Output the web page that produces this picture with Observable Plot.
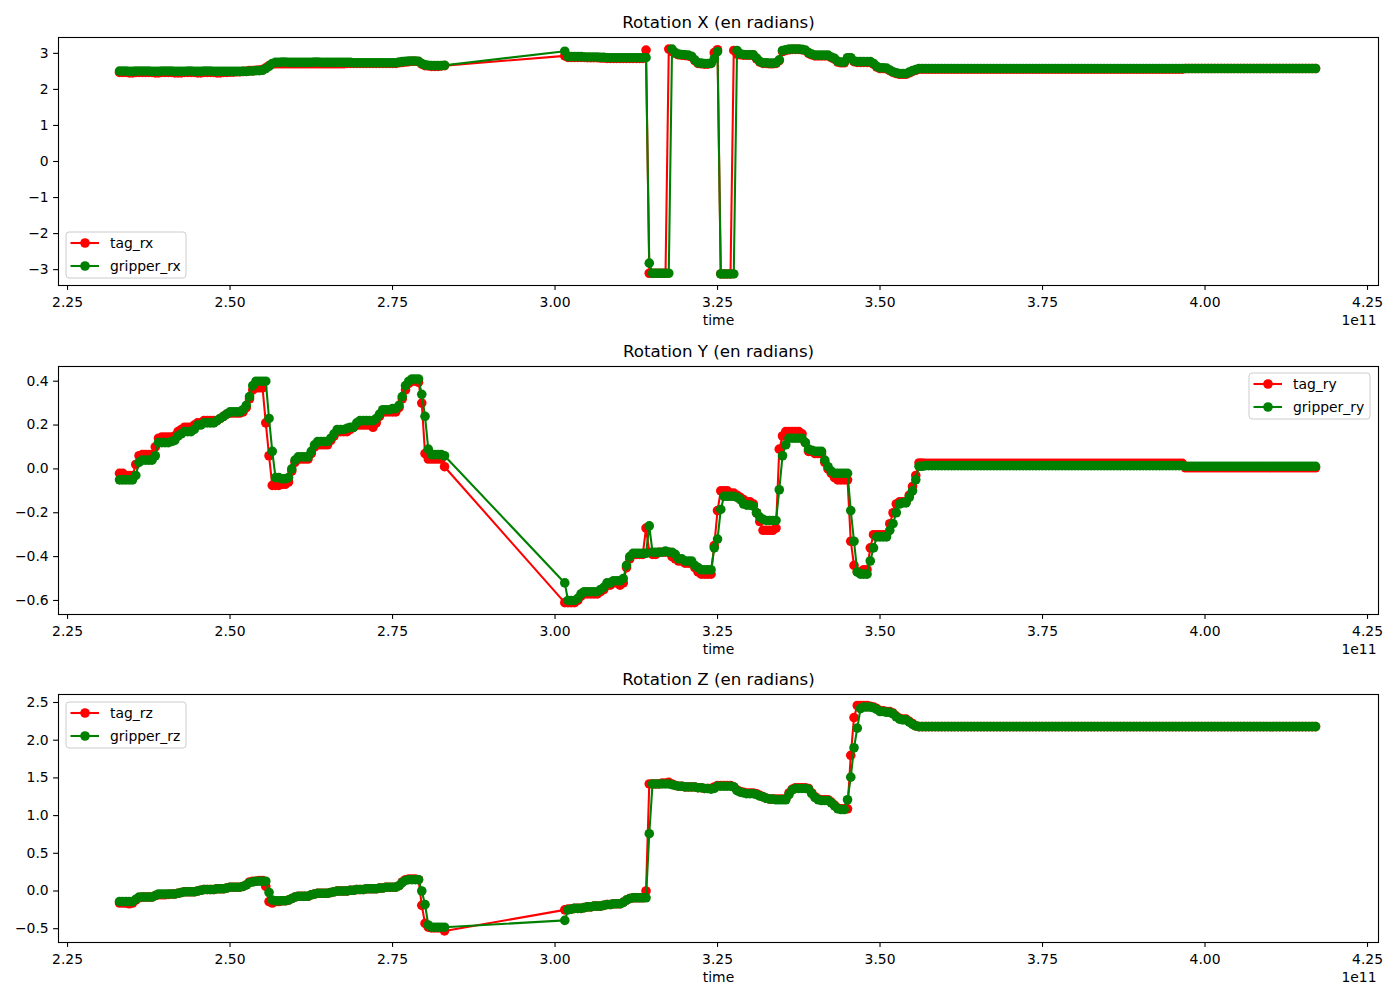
<!DOCTYPE html>
<html>
<head>
<meta charset="utf-8">
<script src="https://cdn.jsdelivr.net/npm/d3@7"></script>
<script src="https://cdn.jsdelivr.net/npm/@observablehq/plot@0.6"></script>
<style>
  body { margin: 0; background: #fff; font-family: "DejaVu Sans", sans-serif; }
  #root { position: relative; width: 1400px; height: 1000px; overflow: hidden; }
  .panel { position: absolute; left: 0; }
  .panel svg { display: block; }
  .legend { position: absolute; }
</style>
</head>
<body>
<div id="root"></div>
<script>
// ---- data (time in units of 1e11) ----
const time = [
  2.330,2.335,2.340,2.345,2.350,2.355,2.360,2.365,2.370,2.375,
  2.380,2.385,2.390,2.395,2.400,2.405,2.410,2.415,2.420,2.425,
  2.430,2.435,2.440,2.445,2.450,2.455,2.460,2.465,2.470,2.475,
  2.480,2.485,2.490,2.495,2.500,2.505,2.510,2.515,2.520,2.525,
  2.530,2.535,2.540,2.545,2.550,2.555,2.560,2.565,2.570,2.575,
  2.580,2.585,2.590,2.595,2.600,2.605,2.610,2.615,2.620,2.625,
  2.630,2.635,2.640,2.645,2.650,2.655,2.660,2.665,2.670,2.675,
  2.680,2.685,2.690,2.695,2.700,2.705,2.710,2.715,2.720,2.725,
  2.730,2.735,2.740,2.745,2.750,2.755,2.760,2.765,2.770,2.775,
  2.780,2.785,2.790,2.795,2.800,2.805,2.810,2.815,2.820,2.825,
  2.830,
  3.015,
  3.020,3.025,3.030,3.035,3.040,3.045,3.050,3.055,3.060,3.065,
  3.070,3.075,3.080,3.085,3.090,3.095,3.100,3.105,3.110,3.115,
  3.120,3.125,3.130,3.135,3.140,3.145,3.150,3.155,3.160,3.165,
  3.170,3.175,3.180,3.185,3.190,3.195,3.200,3.205,3.210,3.215,
  3.220,3.225,3.230,3.235,3.240,3.245,3.250,3.255,3.260,3.265,
  3.270,3.275,3.280,3.285,3.290,3.295,3.300,3.305,3.310,3.315,
  3.320,3.325,3.330,3.335,3.340,3.345,3.350,3.355,3.360,3.365,
  3.370,3.375,3.380,3.385,3.390,3.395,3.400,3.405,3.410,3.415,
  3.420,3.425,3.430,3.435,3.440,3.445,3.450,3.455,3.460,3.465,
  3.470,3.475,3.480,3.485,3.490,3.495,3.500,3.505,3.510,3.515,
  3.520,3.525,3.530,3.535,3.540,3.545,3.550,3.555,3.560,3.565,
  3.570,3.575,3.580,3.585,3.590,3.595,3.600,3.605,3.610,3.615,
  3.620,3.625,3.630,3.635,3.640,3.645,3.650,3.655,3.660,3.665,
  3.670,3.675,3.680,3.685,3.690,3.695,3.700,3.705,3.710,3.715,
  3.720,3.725,3.730,3.735,3.740,3.745,3.750,3.755,3.760,3.765,
  3.770,3.775,3.780,3.785,3.790,3.795,3.800,3.805,3.810,3.815,
  3.820,3.825,3.830,3.835,3.840,3.845,3.850,3.855,3.860,3.865,
  3.870,3.875,3.880,3.885,3.890,3.895,3.900,3.905,3.910,3.915,
  3.920,3.925,3.930,3.935,3.940,3.945,3.950,3.955,3.960,3.965,
  3.970,3.975,3.980,3.985,3.990,3.995,4.000,4.005,4.010,4.015,
  4.020,4.025,4.030,4.035,4.040,4.045,4.050,4.055,4.060,4.065,
  4.070,4.075,4.080,4.085,4.090,4.095,4.100,4.105,4.110,4.115,
  4.120,4.125,4.130,4.135,4.140,4.145,4.150,4.155,4.160,4.165,
  4.170
];

const tagRx = [
  2.47,2.47,2.47,2.46,2.46,2.47,2.47,2.47,2.47,2.47,
  2.47,2.46,2.46,2.47,2.47,2.47,2.47,2.46,2.46,2.46,
  2.47,2.47,2.47,2.47,2.46,2.46,2.47,2.47,2.47,2.47,
  2.46,2.46,2.47,2.47,2.48,2.48,2.49,2.49,2.50,2.50,
  2.52,2.52,2.53,2.54,2.55,2.60,2.66,2.70,2.71,2.71,
  2.71,2.71,2.71,2.71,2.71,2.71,2.71,2.71,2.71,2.71,
  2.71,2.71,2.71,2.71,2.71,2.71,2.71,2.71,2.71,2.71,
  2.72,2.72,2.72,2.72,2.72,2.72,2.72,2.72,2.72,2.72,
  2.72,2.72,2.72,2.72,2.72,2.72,2.74,2.75,2.76,2.77,
  2.78,2.78,2.77,2.70,2.66,2.65,2.64,2.64,2.64,2.65,
  2.66,
  2.93,
  2.89,2.89,2.89,2.89,2.89,2.89,2.88,2.88,2.88,2.88,
  2.87,2.87,2.86,2.86,2.86,2.86,2.86,2.86,2.86,2.86,
  2.86,2.86,2.86,2.86,3.09,-3.10,-3.10,-3.10,-3.10,-3.10,
  -3.10,3.12,3.05,3.00,2.96,2.95,2.94,2.93,2.90,2.80,
  2.72,2.71,2.70,2.70,2.72,3.02,3.10,-3.12,-3.12,-3.12,
  -3.12,3.08,2.98,2.96,2.95,2.95,2.95,2.95,2.85,2.76,
  2.72,2.72,2.71,2.71,2.72,2.80,3.05,3.08,3.10,3.11,
  3.11,3.11,3.10,3.08,3.00,2.96,2.93,2.93,2.93,2.93,
  2.93,2.88,2.84,2.76,2.74,2.74,2.86,2.86,2.77,2.75,
  2.75,2.75,2.75,2.75,2.70,2.62,2.58,2.58,2.57,2.52,
  2.47,2.44,2.42,2.42,2.42,2.46,2.50,2.53,2.56,2.56,
  2.56,2.56,2.56,2.56,2.56,2.56,2.56,2.56,2.56,2.56,
  2.56,2.56,2.56,2.56,2.56,2.56,2.56,2.56,2.56,2.56,
  2.56,2.56,2.56,2.56,2.56,2.56,2.56,2.56,2.56,2.56,
  2.56,2.56,2.56,2.56,2.56,2.56,2.56,2.56,2.56,2.56,
  2.56,2.56,2.56,2.56,2.56,2.56,2.56,2.56,2.56,2.56,
  2.56,2.56,2.56,2.56,2.56,2.56,2.56,2.56,2.56,2.56,
  2.56,2.56,2.56,2.56,2.56,2.56,2.56,2.56,2.56,2.56,
  2.56,2.56,2.56,2.56,2.56,2.56,2.56,2.56,2.56,2.56,
  2.58,2.58,2.58,2.58,2.58,2.58,2.58,2.58,2.58,2.58,
  2.58,2.58,2.58,2.58,2.58,2.58,2.58,2.58,2.58,2.58,
  2.58,2.58,2.58,2.58,2.58,2.58,2.58,2.58,2.58,2.58,
  2.58,2.58,2.58,2.58,2.58,2.58,2.58,2.58,2.58,2.58,
  2.58
];
const gripperRx = [
  2.51,2.51,2.51,2.50,2.50,2.51,2.51,2.51,2.51,2.51,
  2.50,2.50,2.50,2.51,2.51,2.51,2.51,2.50,2.50,2.50,
  2.50,2.51,2.51,2.50,2.50,2.50,2.51,2.51,2.51,2.50,
  2.50,2.50,2.50,2.50,2.50,2.50,2.50,2.50,2.50,2.50,
  2.51,2.51,2.52,2.52,2.53,2.58,2.64,2.72,2.75,2.75,
  2.76,2.76,2.75,2.75,2.75,2.75,2.75,2.75,2.75,2.75,
  2.76,2.76,2.75,2.75,2.75,2.75,2.75,2.75,2.75,2.75,
  2.75,2.75,2.74,2.74,2.74,2.74,2.74,2.74,2.74,2.74,
  2.74,2.74,2.74,2.74,2.74,2.74,2.76,2.77,2.78,2.79,
  2.79,2.79,2.78,2.72,2.68,2.67,2.66,2.66,2.66,2.66,
  2.67,
  3.06,
  2.91,2.91,2.91,2.91,2.91,2.90,2.90,2.90,2.90,2.90,
  2.89,2.89,2.88,2.88,2.88,2.88,2.88,2.88,2.88,2.88,
  2.88,2.88,2.88,2.88,2.88,-2.82,-3.10,-3.10,-3.10,-3.10,
  -3.10,-3.10,3.12,3.02,2.98,2.97,2.96,2.95,2.92,2.82,
  2.74,2.73,2.72,2.72,2.72,2.85,3.05,-3.12,-3.12,-3.12,
  -3.12,-3.12,3.08,2.99,2.97,2.96,2.96,2.96,2.87,2.78,
  2.74,2.74,2.73,2.73,2.74,2.82,3.08,3.10,3.12,3.12,
  3.12,3.12,3.11,3.09,3.02,2.98,2.95,2.95,2.95,2.95,
  2.95,2.90,2.86,2.78,2.76,2.76,2.88,2.88,2.79,2.77,
  2.77,2.77,2.77,2.77,2.72,2.64,2.60,2.60,2.59,2.54,
  2.49,2.46,2.44,2.44,2.44,2.48,2.52,2.55,2.58,2.58,
  2.58,2.58,2.58,2.58,2.58,2.58,2.58,2.58,2.58,2.58,
  2.58,2.58,2.58,2.58,2.58,2.58,2.58,2.58,2.58,2.58,
  2.58,2.58,2.58,2.58,2.58,2.58,2.58,2.58,2.58,2.58,
  2.58,2.58,2.58,2.58,2.58,2.58,2.58,2.58,2.58,2.58,
  2.58,2.58,2.58,2.58,2.58,2.58,2.58,2.58,2.58,2.58,
  2.58,2.58,2.58,2.58,2.58,2.58,2.58,2.58,2.58,2.58,
  2.58,2.58,2.58,2.58,2.58,2.58,2.58,2.58,2.58,2.58,
  2.58,2.58,2.58,2.58,2.58,2.58,2.58,2.58,2.58,2.58,
  2.58,2.58,2.58,2.58,2.58,2.58,2.58,2.58,2.58,2.58,
  2.58,2.58,2.58,2.58,2.58,2.58,2.58,2.58,2.58,2.58,
  2.58,2.58,2.58,2.58,2.58,2.58,2.58,2.58,2.58,2.58,
  2.58,2.58,2.58,2.58,2.58,2.58,2.58,2.58,2.58,2.58,
  2.58
];

const tagRy = [
  -0.02,-0.02,-0.03,-0.03,-0.03,0.02,0.06,0.065,0.065,0.065,
  0.065,0.10,0.14,0.145,0.145,0.145,0.145,0.15,0.17,0.18,
  0.19,0.19,0.19,0.20,0.21,0.21,0.22,0.22,0.22,0.22,
  0.22,0.23,0.24,0.25,0.255,0.255,0.255,0.255,0.26,0.28,
  0.32,0.36,0.37,0.37,0.37,0.21,0.06,-0.075,-0.075,-0.075,
  -0.07,-0.07,-0.06,-0.01,0.03,0.045,0.045,0.045,0.045,0.07,
  0.10,0.11,0.11,0.11,0.11,0.13,0.15,0.17,0.17,0.17,
  0.17,0.18,0.19,0.20,0.20,0.20,0.20,0.20,0.19,0.21,
  0.24,0.26,0.26,0.26,0.26,0.26,0.28,0.32,0.36,0.39,
  0.40,0.40,0.395,0.30,0.07,0.045,0.045,0.045,0.045,0.045,
  0.01,
  -0.61,
  -0.61,-0.61,-0.61,-0.60,-0.58,-0.57,-0.57,-0.57,-0.57,-0.57,
  -0.56,-0.55,-0.53,-0.53,-0.52,-0.52,-0.53,-0.52,-0.45,-0.41,
  -0.39,-0.39,-0.39,-0.39,-0.27,-0.38,-0.39,-0.39,-0.38,-0.38,
  -0.38,-0.38,-0.40,-0.41,-0.42,-0.42,-0.43,-0.43,-0.43,-0.45,
  -0.47,-0.48,-0.48,-0.48,-0.48,-0.35,-0.19,-0.10,-0.10,-0.10,
  -0.11,-0.11,-0.12,-0.13,-0.14,-0.15,-0.15,-0.16,-0.20,-0.24,
  -0.28,-0.28,-0.28,-0.28,-0.27,0.09,0.15,0.17,0.17,0.17,
  0.17,0.17,0.16,0.12,0.08,0.08,0.07,0.07,0.07,0.03,
  0.00,-0.02,-0.04,-0.05,-0.05,-0.05,-0.05,-0.33,-0.44,-0.47,
  -0.47,-0.46,-0.46,-0.36,-0.30,-0.30,-0.30,-0.30,-0.30,-0.25,
  -0.20,-0.16,-0.15,-0.15,-0.15,-0.12,-0.08,-0.03,0.027,0.027,
  0.025,0.025,0.025,0.025,0.025,0.025,0.025,0.025,0.025,0.025,
  0.025,0.025,0.025,0.025,0.025,0.025,0.025,0.025,0.025,0.025,
  0.025,0.025,0.025,0.025,0.025,0.025,0.025,0.025,0.025,0.025,
  0.025,0.025,0.025,0.025,0.025,0.025,0.025,0.025,0.025,0.025,
  0.025,0.025,0.025,0.025,0.025,0.025,0.025,0.025,0.025,0.025,
  0.025,0.025,0.025,0.025,0.025,0.025,0.025,0.025,0.025,0.025,
  0.025,0.025,0.025,0.025,0.025,0.025,0.025,0.025,0.025,0.025,
  0.025,0.025,0.025,0.025,0.025,0.025,0.025,0.025,0.025,0.025,
  0.005,0.005,0.005,0.005,0.005,0.005,0.005,0.005,0.005,0.005,
  0.005,0.005,0.005,0.005,0.005,0.005,0.005,0.005,0.005,0.005,
  0.005,0.005,0.005,0.005,0.005,0.005,0.005,0.005,0.005,0.005,
  0.005,0.005,0.005,0.005,0.005,0.005,0.005,0.005,0.005,0.005,
  0.005
];
const gripperRy = [
  -0.05,-0.05,-0.05,-0.05,-0.05,-0.03,0.03,0.04,0.04,0.04,
  0.04,0.06,0.12,0.12,0.12,0.12,0.125,0.13,0.15,0.16,
  0.17,0.17,0.17,0.18,0.20,0.20,0.21,0.21,0.21,0.21,
  0.22,0.23,0.24,0.25,0.26,0.26,0.26,0.26,0.27,0.29,
  0.33,0.38,0.40,0.40,0.40,0.40,0.23,0.08,-0.04,-0.04,
  -0.045,-0.045,-0.04,0.00,0.04,0.055,0.055,0.055,0.055,0.08,
  0.11,0.125,0.125,0.125,0.125,0.14,0.16,0.18,0.18,0.18,
  0.185,0.19,0.19,0.21,0.22,0.22,0.22,0.22,0.22,0.23,
  0.25,0.27,0.27,0.27,0.275,0.275,0.29,0.33,0.38,0.40,
  0.41,0.41,0.41,0.34,0.24,0.09,0.065,0.065,0.065,0.065,
  0.06,
  -0.52,
  -0.60,-0.60,-0.60,-0.59,-0.57,-0.56,-0.56,-0.56,-0.56,-0.56,
  -0.55,-0.54,-0.52,-0.52,-0.51,-0.51,-0.51,-0.50,-0.44,-0.40,
  -0.385,-0.385,-0.385,-0.385,-0.385,-0.26,-0.38,-0.38,-0.38,-0.38,
  -0.375,-0.38,-0.38,-0.39,-0.41,-0.41,-0.42,-0.42,-0.42,-0.44,
  -0.45,-0.46,-0.46,-0.46,-0.46,-0.36,-0.32,-0.185,-0.125,-0.125,
  -0.125,-0.125,-0.13,-0.14,-0.16,-0.165,-0.165,-0.17,-0.20,-0.22,
  -0.23,-0.235,-0.235,-0.235,-0.235,-0.095,0.06,0.11,0.14,0.14,
  0.14,0.14,0.14,0.12,0.09,0.085,0.08,0.08,0.08,0.04,
  0.01,-0.01,-0.02,-0.02,-0.02,-0.02,-0.02,-0.19,-0.33,-0.47,
  -0.48,-0.48,-0.48,-0.42,-0.36,-0.31,-0.31,-0.31,-0.31,-0.28,
  -0.25,-0.20,-0.16,-0.155,-0.155,-0.13,-0.10,-0.05,0.012,0.012,
  0.015,0.015,0.015,0.015,0.015,0.015,0.015,0.015,0.015,0.015,
  0.015,0.015,0.015,0.015,0.015,0.015,0.015,0.015,0.015,0.015,
  0.015,0.015,0.015,0.015,0.015,0.015,0.015,0.015,0.015,0.015,
  0.015,0.015,0.015,0.015,0.015,0.015,0.015,0.015,0.015,0.015,
  0.015,0.015,0.015,0.015,0.015,0.015,0.015,0.015,0.015,0.015,
  0.015,0.015,0.015,0.015,0.015,0.015,0.015,0.015,0.015,0.015,
  0.015,0.015,0.015,0.015,0.015,0.015,0.015,0.015,0.015,0.015,
  0.015,0.015,0.015,0.015,0.015,0.015,0.015,0.015,0.015,0.015,
  0.012,0.012,0.012,0.012,0.012,0.012,0.012,0.012,0.012,0.012,
  0.012,0.012,0.012,0.012,0.012,0.012,0.012,0.012,0.012,0.012,
  0.012,0.012,0.012,0.012,0.012,0.012,0.012,0.012,0.012,0.012,
  0.012,0.012,0.012,0.012,0.012,0.012,0.012,0.012,0.012,0.012,
  0.012
];

const tagRz = [
  -0.16,-0.16,-0.16,-0.17,-0.16,-0.12,-0.09,-0.08,-0.08,-0.08,
  -0.08,-0.06,-0.05,-0.05,-0.05,-0.045,-0.04,-0.04,-0.03,-0.02,
  -0.01,-0.01,-0.01,-0.01,0.00,0.01,0.02,0.02,0.02,0.02,
  0.03,0.03,0.03,0.04,0.05,0.05,0.05,0.05,0.06,0.08,
  0.12,0.13,0.13,0.14,0.14,0.06,-0.14,-0.16,-0.14,-0.14,
  -0.13,-0.13,-0.12,-0.10,-0.08,-0.07,-0.07,-0.07,-0.07,-0.05,
  -0.04,-0.03,-0.03,-0.03,-0.03,-0.02,-0.01,0.00,0.00,0.00,
  0.00,0.01,0.01,0.02,0.02,0.02,0.03,0.03,0.03,0.03,
  0.04,0.04,0.05,0.05,0.05,0.05,0.07,0.12,0.15,0.16,
  0.16,0.16,0.15,-0.19,-0.43,-0.48,-0.49,-0.49,-0.49,-0.49,
  -0.53,
  -0.25,
  -0.24,-0.24,-0.23,-0.23,-0.23,-0.22,-0.21,-0.21,-0.20,-0.20,
  -0.20,-0.19,-0.18,-0.18,-0.17,-0.17,-0.17,-0.15,-0.12,-0.10,
  -0.09,-0.09,-0.09,-0.09,0.00,1.42,1.42,1.42,1.42,1.43,
  1.43,1.44,1.42,1.40,1.39,1.39,1.38,1.38,1.38,1.38,
  1.37,1.37,1.36,1.36,1.36,1.38,1.40,1.40,1.40,1.40,
  1.40,1.38,1.34,1.32,1.31,1.30,1.30,1.30,1.29,1.27,
  1.25,1.23,1.22,1.22,1.22,1.22,1.22,1.22,1.30,1.35,
  1.37,1.37,1.37,1.37,1.36,1.30,1.25,1.22,1.21,1.21,
  1.21,1.18,1.14,1.10,1.09,1.09,1.09,1.80,2.30,2.46,
  2.46,2.46,2.46,2.45,2.44,2.42,2.39,2.39,2.38,2.38,
  2.36,2.32,2.29,2.28,2.28,2.25,2.22,2.19,2.18,2.18,
  2.18,2.18,2.18,2.18,2.18,2.18,2.18,2.18,2.18,2.18,
  2.18,2.18,2.18,2.18,2.18,2.18,2.18,2.18,2.18,2.18,
  2.18,2.18,2.18,2.18,2.18,2.18,2.18,2.18,2.18,2.18,
  2.18,2.18,2.18,2.18,2.18,2.18,2.18,2.18,2.18,2.18,
  2.18,2.18,2.18,2.18,2.18,2.18,2.18,2.18,2.18,2.18,
  2.18,2.18,2.18,2.18,2.18,2.18,2.18,2.18,2.18,2.18,
  2.18,2.18,2.18,2.18,2.18,2.18,2.18,2.18,2.18,2.18,
  2.18,2.18,2.18,2.18,2.18,2.18,2.18,2.18,2.18,2.18,
  2.18,2.18,2.18,2.18,2.18,2.18,2.18,2.18,2.18,2.18,
  2.18,2.18,2.18,2.18,2.18,2.18,2.18,2.18,2.18,2.18,
  2.18,2.18,2.18,2.18,2.18,2.18,2.18,2.18,2.18,2.18,
  2.18,2.18,2.18,2.18,2.18,2.18,2.18,2.18,2.18,2.18,
  2.18
];
const gripperRz = [
  -0.14,-0.14,-0.14,-0.14,-0.14,-0.11,-0.08,-0.08,-0.08,-0.08,
  -0.08,-0.06,-0.04,-0.04,-0.04,-0.04,-0.04,-0.04,-0.03,-0.02,
  -0.01,-0.01,-0.01,-0.01,0.00,0.01,0.02,0.02,0.02,0.02,
  0.03,0.03,0.03,0.04,0.05,0.05,0.05,0.05,0.06,0.08,
  0.11,0.12,0.13,0.13,0.13,0.13,-0.02,-0.12,-0.13,-0.13,
  -0.13,-0.13,-0.12,-0.10,-0.08,-0.07,-0.07,-0.07,-0.07,-0.05,
  -0.04,-0.03,-0.03,-0.03,-0.03,-0.02,-0.01,0.00,0.00,0.00,
  0.00,0.01,0.01,0.02,0.02,0.02,0.03,0.03,0.03,0.03,
  0.04,0.04,0.05,0.05,0.05,0.05,0.07,0.11,0.14,0.15,
  0.15,0.15,0.15,0.00,-0.18,-0.45,-0.48,-0.48,-0.48,-0.48,
  -0.48,
  -0.39,
  -0.25,-0.24,-0.23,-0.23,-0.23,-0.22,-0.21,-0.21,-0.20,-0.20,
  -0.20,-0.19,-0.18,-0.18,-0.17,-0.17,-0.17,-0.15,-0.12,-0.10,
  -0.09,-0.09,-0.09,-0.09,-0.09,0.76,1.42,1.42,1.42,1.42,
  1.42,1.42,1.41,1.40,1.39,1.39,1.38,1.38,1.38,1.38,
  1.37,1.37,1.36,1.36,1.35,1.36,1.39,1.39,1.39,1.39,
  1.39,1.38,1.33,1.31,1.30,1.29,1.29,1.29,1.28,1.26,
  1.25,1.23,1.22,1.22,1.21,1.21,1.21,1.21,1.28,1.34,
  1.36,1.36,1.36,1.36,1.35,1.29,1.24,1.21,1.20,1.20,
  1.20,1.17,1.13,1.09,1.08,1.08,1.21,1.51,1.90,2.16,
  2.42,2.44,2.44,2.44,2.43,2.41,2.38,2.38,2.37,2.37,
  2.35,2.31,2.28,2.27,2.27,2.24,2.21,2.19,2.18,2.18,
  2.18,2.18,2.18,2.18,2.18,2.18,2.18,2.18,2.18,2.18,
  2.18,2.18,2.18,2.18,2.18,2.18,2.18,2.18,2.18,2.18,
  2.18,2.18,2.18,2.18,2.18,2.18,2.18,2.18,2.18,2.18,
  2.18,2.18,2.18,2.18,2.18,2.18,2.18,2.18,2.18,2.18,
  2.18,2.18,2.18,2.18,2.18,2.18,2.18,2.18,2.18,2.18,
  2.18,2.18,2.18,2.18,2.18,2.18,2.18,2.18,2.18,2.18,
  2.18,2.18,2.18,2.18,2.18,2.18,2.18,2.18,2.18,2.18,
  2.18,2.18,2.18,2.18,2.18,2.18,2.18,2.18,2.18,2.18,
  2.18,2.18,2.18,2.18,2.18,2.18,2.18,2.18,2.18,2.18,
  2.18,2.18,2.18,2.18,2.18,2.18,2.18,2.18,2.18,2.18,
  2.18,2.18,2.18,2.18,2.18,2.18,2.18,2.18,2.18,2.18,
  2.18,2.18,2.18,2.18,2.18,2.18,2.18,2.18,2.18,2.18,
  2.18
];

const xTicks = [2.25, 2.50, 2.75, 3.00, 3.25, 3.50, 3.75, 4.00, 4.25];
const rxTicks = [-3, -2, -1, 0, 1, 2, 3];
const ryTicks = [-0.6, -0.4, -0.2, 0.0, 0.2, 0.4];
const rzTicks = [-0.5, 0.0, 0.5, 1.0, 1.5, 2.0, 2.5];
const titles = ["Rotation X (en radians)", "Rotation Y (en radians)", "Rotation Z (en radians)"];
const seriesNames = [["tag_rx", "gripper_rx"], ["tag_ry", "gripper_ry"], ["tag_rz", "gripper_rz"]];
const xLabel = "time";
const xOffsetText = "1e11";

// ---- sanity check ----
for (const [n, a] of Object.entries({tagRx, gripperRx, tagRy, gripperRy, tagRz, gripperRz})) {
  if (a.length !== time.length) throw new Error(n + " length " + a.length + " != " + time.length);
}

// ---- layout ----
const W = 1400;
const ML = 58, MR = 22, MT = 37, FRAME_H = 248;
const TAG = "#ff0000", GRIP = "#008000";
const FONT = "DejaVu Sans";
const TICK_FS = 13.9, TITLE_FS = 16.67;
const DOT_R = 4.8;
const xDomain = [2.2361, 4.2669];

const fmt = (digits) => (d) => (d < 0 ? "\u2212" : "") + Math.abs(d).toFixed(digits);

const root = document.getElementById("root");

function makePanel({top, height, title, tag, grip, names, yDomain, yTicks, yDigits, legend}) {
  const data = time.map((t, i) => ({t, tag: tag[i], grip: grip[i]}));
  const chart = Plot.plot({
    width: W,
    height,
    marginLeft: ML,
    marginRight: MR,
    marginTop: MT,
    marginBottom: height - MT - FRAME_H,
    style: {fontFamily: FONT, fontSize: TICK_FS + "px", color: "black", background: "white", overflow: "visible"},
    x: {domain: xDomain},
    y: {domain: yDomain},
    marks: [
      Plot.axisX({ticks: xTicks, tickFormat: fmt(2), tickSize: 4.9, tickPadding: 7, label: null, fontSize: TICK_FS, strokeWidth: 1.1}),
      Plot.axisY({ticks: yTicks, tickFormat: fmt(yDigits), tickSize: 4.9, tickPadding: 4.9, label: null, fontSize: TICK_FS, strokeWidth: 1.1}),
      Plot.line(data, {x: "t", y: "tag", stroke: TAG, strokeWidth: 2.08}),
      Plot.dot(data, {x: "t", y: "tag", r: DOT_R, fill: TAG, stroke: null}),
      Plot.line(data, {x: "t", y: "grip", stroke: GRIP, strokeWidth: 2.08}),
      Plot.dot(data, {x: "t", y: "grip", r: DOT_R, fill: GRIP, stroke: null}),
      Plot.frame({stroke: "black", strokeWidth: 1.1}),
      Plot.text([title], {frameAnchor: "top", lineAnchor: "middle", dy: -15, fontSize: TITLE_FS, fill: "black"}),
      Plot.text([xLabel], {frameAnchor: "bottom", lineAnchor: "middle", dy: 35, fontSize: TICK_FS, fill: "black"}),
      Plot.text([xOffsetText], {frameAnchor: "bottom-right", lineAnchor: "middle", dy: 35, dx: -2, textAnchor: "end", fontSize: TICK_FS, fill: "black"})
    ]
  });
  const wrap = document.createElement("div");
  wrap.className = "panel";
  wrap.style.top = top + "px";
  wrap.appendChild(chart);
  root.appendChild(wrap);

  // legend (matplotlib-style box)
  const lw = legend.w, lh = 46;
  const ns = "http://www.w3.org/2000/svg";
  const svg = document.createElementNS(ns, "svg");
  svg.setAttribute("width", lw + 2);
  svg.setAttribute("height", lh + 2);
  svg.setAttribute("class", "legend");
  svg.style.left = (legend.x - 1) + "px";
  svg.style.top = (legend.y - 1) + "px";
  const rect = document.createElementNS(ns, "rect");
  rect.setAttribute("x", 1); rect.setAttribute("y", 1);
  rect.setAttribute("width", lw); rect.setAttribute("height", lh);
  rect.setAttribute("rx", 3);
  rect.setAttribute("fill", "rgba(255,255,255,0.8)");
  rect.setAttribute("stroke", "#cccccc");
  rect.setAttribute("stroke-width", 1);
  svg.appendChild(rect);
  [[names[0], TAG, 12], [names[1], GRIP, 35]].forEach(([label, color, cy]) => {
    const ln = document.createElementNS(ns, "line");
    ln.setAttribute("x1", 5.5); ln.setAttribute("x2", 34);
    ln.setAttribute("y1", cy); ln.setAttribute("y2", cy);
    ln.setAttribute("stroke", color); ln.setAttribute("stroke-width", 2.08);
    svg.appendChild(ln);
    const c = document.createElementNS(ns, "circle");
    c.setAttribute("cx", 20); c.setAttribute("cy", cy); c.setAttribute("r", DOT_R);
    c.setAttribute("fill", color);
    svg.appendChild(c);
    const tx = document.createElementNS(ns, "text");
    tx.setAttribute("x", 45); tx.setAttribute("y", cy);
    tx.setAttribute("dy", "0.35em");
    tx.setAttribute("font-family", FONT);
    tx.setAttribute("font-size", TICK_FS);
    tx.setAttribute("fill", "black");
    tx.textContent = label;
    svg.appendChild(tx);
  });
  root.appendChild(svg);
}

makePanel({top: 0, height: 329, title: titles[0], tag: tagRx, grip: gripperRx, names: seriesNames[0],
  yDomain: [-3.44, 3.44], yTicks: rxTicks, yDigits: 0, legend: {x: 66, y: 232, w: 120}});
makePanel({top: 329, height: 328, title: titles[1], tag: tagRy, grip: gripperRy, names: seriesNames[1],
  yDomain: [-0.664, 0.467], yTicks: ryTicks, yDigits: 1, legend: {x: 1249, y: 373, w: 121}});
makePanel({top: 657, height: 343, title: titles[2], tag: tagRz, grip: gripperRz, names: seriesNames[2],
  yDomain: [-0.683, 2.606], yTicks: rzTicks, yDigits: 1, legend: {x: 66, y: 702, w: 120}});
</script>
</body>
</html>
